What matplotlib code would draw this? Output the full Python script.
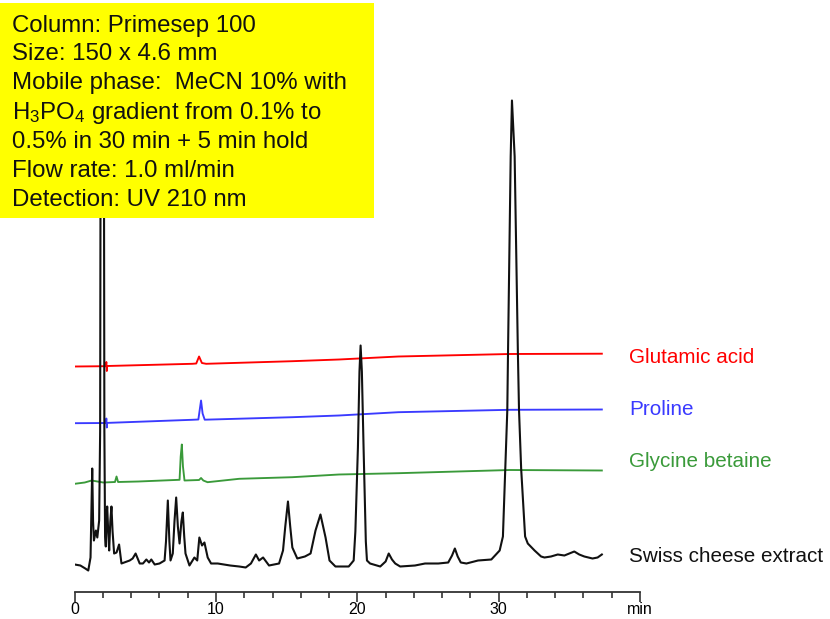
import matplotlib
matplotlib.use("Agg")
import matplotlib.pyplot as plt
from matplotlib.patches import Rectangle
from matplotlib.ticker import MultipleLocator

plt.rcParams['font.family'] = ['Liberation Sans', 'DejaVu Sans']
plt.rcParams['mathtext.fontset'] = 'custom'
plt.rcParams['mathtext.rm'] = 'Liberation Sans'
plt.rcParams['mathtext.it'] = 'Liberation Sans:italic'

# Swiss cheese extract trace (time in min, signal)
cheese_t = [0.0, 0.4, 0.75, 0.96, 1.12, 1.2, 1.24, 1.3, 1.36, 1.5, 1.6, 1.73, 1.8, 1.83,
            1.95, 2.07, 2.1, 2.15, 2.2, 2.25, 2.3, 2.37, 2.44, 2.52, 2.6, 2.68, 2.79,
            2.96, 3.14, 3.31, 3.5, 3.89, 4.1, 4.31, 4.6, 4.83, 5.07, 5.26, 5.42, 5.66,
            6.0, 6.36, 6.46, 6.59, 6.7, 6.78, 6.94, 7.06, 7.18, 7.3, 7.42, 7.55, 7.65,
            7.75, 7.84, 8.12, 8.47, 8.67, 8.82, 9.01, 9.18, 9.41, 9.65, 10.12, 11.0,
            11.64, 12.1, 12.47, 12.82, 13.05, 13.33, 13.75, 14.46, 14.74, 14.9, 15.09,
            15.25, 15.4, 15.75, 16.29, 16.69, 17.04, 17.39, 17.75, 18.03, 18.45, 19.39,
            19.74, 19.86, 20.04, 20.15, 20.23, 20.32, 20.44, 20.6, 20.68, 20.9, 21.62,
            22.0, 22.22, 22.45, 22.68, 23.03, 24.08, 24.79, 25.73, 26.43, 26.7, 26.9,
            27.1, 27.32, 27.72, 28.54, 29.48, 30.07, 30.3, 30.47, 30.61, 30.66, 30.85,
            30.94, 31.13, 31.36, 31.44, 31.59, 31.87, 32.06, 32.54, 33.0, 33.24, 33.7,
            34.18, 34.65, 35.0, 35.35, 35.7, 36.06, 36.64, 37.0, 37.3]
cheese_y = [27, 26, 23, 21, 34, 90, 123, 70, 51, 61, 54, 71, 160, 440,
            470, 440, 160, 55, 45, 75, 85, 60, 41, 70, 85, 60, 38,
            39, 47, 28, 29, 31, 33, 38, 28, 28, 32, 29, 32, 27,
            28, 31, 50, 91, 50, 31, 38, 70, 94, 65, 48, 70, 79,
            55, 38, 26, 34, 31, 54, 46, 49, 34, 28, 28, 26,
            25, 24, 28, 37, 31, 34, 26, 28, 41, 65, 90,
            65, 44, 33, 35, 38, 61, 77, 54, 31, 25, 25,
            31, 60, 144, 220, 246, 220, 144, 50, 31, 28, 25,
            30, 38, 32, 28, 25, 26, 28, 28, 29, 36, 43,
            35, 29, 28, 31, 32, 41, 55, 123, 181, 238, 435,
            491, 435, 238, 181, 123, 55, 48, 41, 35, 34, 35,
            37, 36, 38, 40, 37, 35, 33, 34, 37]

# Glycine betaine standard
glycine_t = [0.0, 0.71, 1.2, 2.02, 2.85, 2.96, 3.07, 4.5, 7.42, 7.5, 7.58, 7.66, 7.77,
             8.8, 8.94, 9.1, 9.4, 11.64, 15.4, 18.7, 22.9, 30.8, 37.3]
glycine_y = [107.7, 109, 111, 109, 109.5, 115, 109.5, 110, 111.7, 135, 147, 125, 111,
             111.5, 113.5, 111, 109.3, 112.7, 114.3, 117, 118.3, 121.5, 121]

# Proline standard
proline_t = [0.0, 2.2, 2.24, 2.27, 2.3, 8.3, 8.75, 8.94, 9.05, 9.2, 15.4, 18.7, 22.9,
             30.8, 37.3]
proline_y = [168.3, 168.5, 173, 164, 168.6, 171.7, 172, 191, 178, 171.8, 174.3, 176,
             179.3, 181.7, 182]

# Glutamic acid standard
glutamic_t = [0.0, 2.2, 2.24, 2.27, 2.3, 8.33, 8.6, 8.8, 9.0, 9.3, 15.4, 18.7, 22.9,
              30.8, 37.3]
glutamic_y = [225, 225.3, 229.5, 220.5, 225.5, 227.7, 228, 235, 228.5, 227.7, 230.3, 232,
              235, 237.5, 237.8]

trace_names = ['Glutamic acid', 'Proline', 'Glycine betaine', 'Swiss cheese extract']
label_y = [228.2, 176.5, 124.8, 29.8]
trace_colors = ['#ff0000', '#3a3aff', '#3a9a3a', '#111111']

info_lines = [
    'Column: Primesep 100',
    'Size: 150 x 4.6 mm',
    'Mobile phase:  MeCN 10% with',
    'H$_3$PO$_4$ gradient from 0.1% to',
    '0.5% in 30 min + 5 min hold',
    'Flow rate: 1.0 ml/min',
    'Detection: UV 210 nm',
]

W, H = 830, 619
fig = plt.figure(figsize=(W / 100, H / 100), dpi=100)
ax = fig.add_axes([74.7 / W, (H - 591.5) / H, (640 - 74.7) / W, 520 / H])

series = [(glutamic_t, glutamic_y), (proline_t, proline_y), (glycine_t, glycine_y)]
for (t, y), c in zip(series, trace_colors[:3]):
    ax.plot(t, y, color=c, lw=1.35, solid_joinstyle='round')
ax.plot(cheese_t, cheese_y, color=trace_colors[3], lw=1.5, solid_joinstyle='round')

for name, yy, c in zip(trace_names, label_y, trace_colors):
    ax.text(39.23, yy, name, color=c, fontsize=14.9, va='baseline', ha='left',
            clip_on=False)

ax.set_xlim(0, 40)
ax.set_ylim(0, 520)
for s in ['left', 'right', 'top']:
    ax.spines[s].set_visible(False)
ax.spines['bottom'].set_color('#333333')
ax.spines['bottom'].set_linewidth(1.3)
ax.set_yticks([])
ax.set_xticks([0, 10, 20, 30, 40])
ax.set_xticklabels(['0', '10', '20', '30', 'min'])
ax.xaxis.set_minor_locator(MultipleLocator(2))
ax.tick_params(axis='x', which='major', direction='out', length=7, width=1.2,
               color='#333333', labelsize=11.5, pad=0.5)
ax.tick_params(axis='x', which='minor', direction='out', length=4.5, width=1.2,
               color='#333333')
ax.patch.set_visible(False)

# yellow conditions box
fig.add_artist(Rectangle((0, 1 - 218 / H), 374 / W, 215 / H, transform=fig.transFigure,
                         facecolor='#ffff00', edgecolor='none', zorder=5))
baselines = [31.7, 60.5, 89.5, 118.5, 148.0, 177.0, 206.5]
for line, b in zip(info_lines, baselines):
    fig.text(11.5 / W, 1 - b / H, line, fontsize=17.3, va='baseline', ha='left',
             color='#111111', zorder=6)

fig.savefig('out.png', dpi=100)
